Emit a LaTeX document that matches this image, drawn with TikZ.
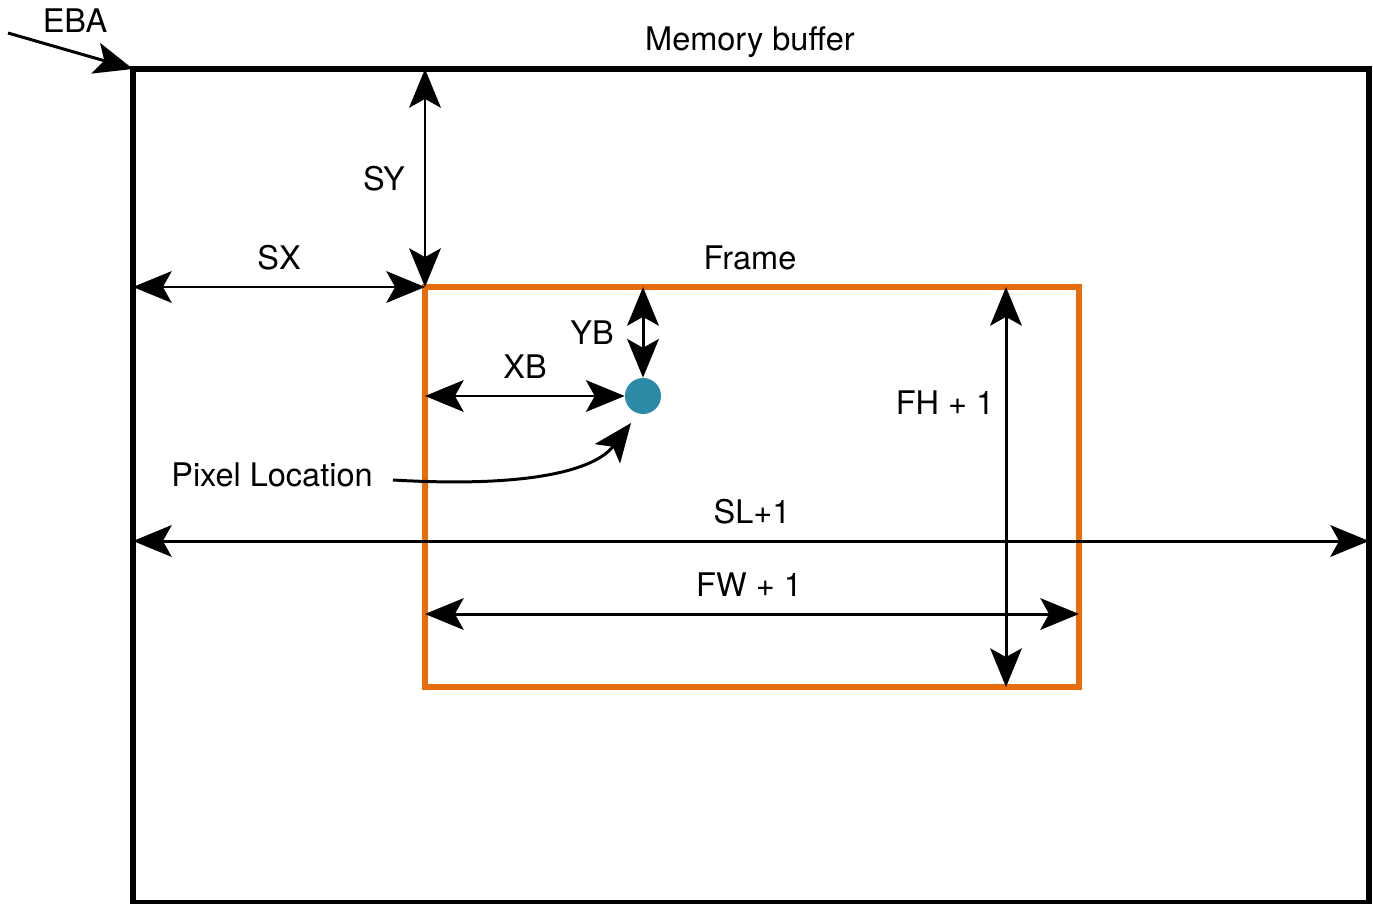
\documentclass[tikz,border=0pt]{standalone}
\usepackage{fontspec}
\setmainfont{TeX Gyre Heros}
\usepackage{tikz}
\usetikzlibrary{arrows.meta}

\definecolor{frameorange}{RGB}{230,108,12}
\definecolor{pixelteal}{RGB}{46,139,168}

\begin{document}
\begin{tikzpicture}[
    x=0.02cm, y=-0.02cm,
    font=\fontsize{18.5}{22}\selectfont,
    dimtip/.tip={Stealth[length=22pt, width=18pt, inset=5pt]},
    dim/.style={dimtip-dimtip, line width=1.7pt},
    pointer/.style={-dimtip, line width=1.7pt},
    lbl/.style={anchor=base, inner sep=0pt},
    buffer/.style={draw, line width=3.4pt},
    frame/.style={draw=frameorange, line width=2.9pt},
]
\useasboundingbox (0,0) rectangle (1373,903);

%% ---- corners of memory buffer and frame ----
\coordinate (bufNW) at (133,69);
\coordinate (bufSE) at (1369,903);
\coordinate (frmNW) at (425,287);
\coordinate (frmSE) at (1079,687);

%% ---- the two rectangles ----
\draw[buffer] (bufNW) rectangle (bufSE);
\draw[frame]  (frmNW) rectangle (frmSE);

%% ---- pixel ----
\node[circle, fill=pixelteal, minimum size=0.72cm, inner sep=0pt] (pixel) at (643,396) {};

%% ---- free ends of connectors ----
\coordinate (ebaStart) at (8,33);
\coordinate (syTop)    at (425,69);
\coordinate (sxLeft)   at (133,287);
\coordinate (xbLeft)   at (425,396);
\coordinate (ybTop)    at (643,287);
\coordinate (slLeft)   at (133,541);
\coordinate (slRight)  at (1369,541);
\coordinate (fwLeft)   at (425,614);
\coordinate (fwRight)  at (1079,614);
\coordinate (fhTop)    at (1006,287);
\coordinate (fhBottom) at (1006,687);
\coordinate (pixStart) at (393,480);
\coordinate (pixEnd)   at (631,423);

%% ---- labels ----
\node[lbl] (ebaLbl)   at (75,32)   {EBA};
\node[lbl] (bufLbl)   at (750,50)  {Memory buffer};
\node[lbl] (syLbl)    at (384,190) {SY};
\node[lbl] (sxLbl)    at (279,269) {SX};
\node[lbl] (frmLbl)   at (750,269) {Frame};
\node[lbl] (ybLbl)    at (592,344) {YB};
\node[lbl] (xbLbl)    at (525,378) {XB};
\node[lbl] (fhLbl)    at (945,414) {FH + 1};
\node[lbl] (pixLbl)   at (272,486) {Pixel Location};
\node[lbl] (slLbl)    at (752,523) {SL+1};
\node[lbl] (fwLbl)    at (749,596) {FW + 1};

%% ---- dimension arrows ----
\draw[pointer] (ebaStart) -- (bufNW);
\draw[dim] (syTop)  -- (frmNW);
\draw[dim] (sxLeft) -- (frmNW);
\draw[dim] (xbLeft) -- (pixel.west);
\draw[dim] (ybTop)  -- (pixel.north);
\draw[dim] (slLeft) -- (slRight);
\draw[dim] (fwLeft) -- (fwRight);
\draw[dim] (fhTop)  -- (fhBottom);

%% ---- pointer to pixel location ----
\draw[pointer] (pixStart) .. controls (530,488) and (595,470) .. (pixEnd);

\end{tikzpicture}
\end{document}
